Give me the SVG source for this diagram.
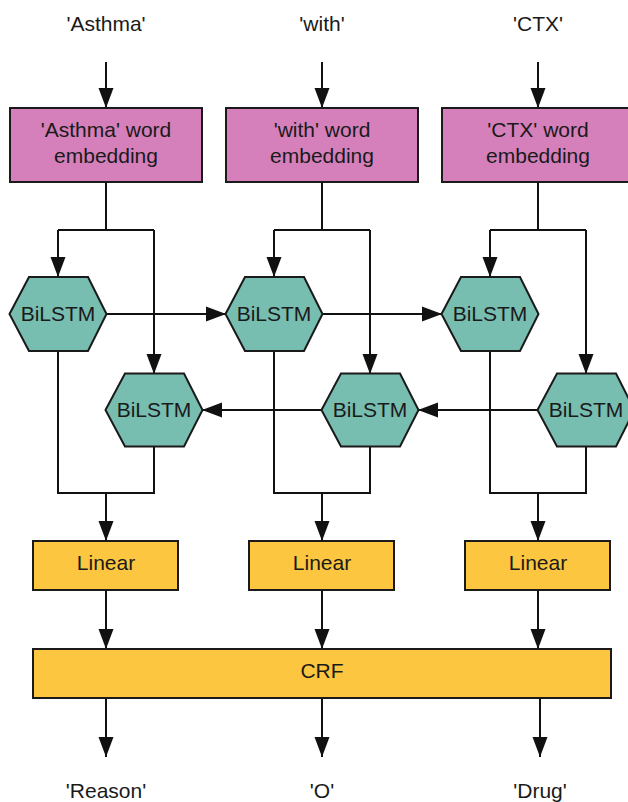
<svg xmlns="http://www.w3.org/2000/svg" width="628" height="802" viewBox="0 0 628 802">
<style>
  text { font-family: "Liberation Sans", Arial, sans-serif; font-size: 21px; fill: #1a1a1a; text-anchor: middle; }
  .emb { fill: #d580bb; stroke: #1a1a1a; stroke-width: 2; }
  .hex { fill: #77bdb0; stroke: #1a1a1a; stroke-width: 2; }
  .yel { fill: #fdc640; stroke: #1a1a1a; stroke-width: 2; }
  .wire { fill: none; stroke: #111; stroke-width: 2; }
  .arr { fill: none; stroke: #111; stroke-width: 2; marker-end: url(#ah); }
</style>
<defs>
  <marker id="ah" viewBox="0 0 20 20" refX="20" refY="10" markerUnits="userSpaceOnUse" markerWidth="20" markerHeight="20" orient="auto">
    <path d="M0,2.5 L20,10 L0,17.5 Z" fill="#111"/>
  </marker>
</defs>

<g id="connectors">
  <path class="arr" d="M106,62 V108"/>
  <path class="arr" d="M322,62 V108"/>
  <path class="arr" d="M538,62 V108"/>
  <path class="wire" d="M106,182 V230 M58,230 H154"/>
  <path class="arr" d="M58,230 V277"/>
  <path class="arr" d="M154,230 V374"/>
  <path class="wire" d="M322,182 V230 M274,230 H370"/>
  <path class="arr" d="M274,230 V277"/>
  <path class="arr" d="M370,230 V374"/>
  <path class="wire" d="M538,182 V230 M490,230 H586"/>
  <path class="arr" d="M490,230 V277"/>
  <path class="arr" d="M586,230 V374"/>
  <path class="arr" d="M106,314 H226"/>
  <path class="arr" d="M322,314 H442"/>
  <path class="arr" d="M538,410 H418"/>
  <path class="arr" d="M322,410 H202"/>
  <path class="wire" d="M58,351 V493 H154 V447"/>
  <path class="arr" d="M106,493 V541"/>
  <path class="wire" d="M274,351 V493 H370 V447"/>
  <path class="arr" d="M322,493 V541"/>
  <path class="wire" d="M490,351 V493 H586 V447"/>
  <path class="arr" d="M538,493 V541"/>
  <path class="arr" d="M106,590 V649"/>
  <path class="arr" d="M322,590 V649"/>
  <path class="arr" d="M538,590 V649"/>
  <path class="arr" d="M106,698 V757"/>
  <path class="arr" d="M322,698 V757"/>
  <path class="arr" d="M540,698 V757"/>
</g>

<g id="labels-in">
  <text x="106" y="31">'Asthma'</text>
  <text x="322" y="31">'with'</text>
  <text x="538" y="31">'CTX'</text>
</g>

<g id="emb-asthma">
  <rect class="emb" x="10" y="108" width="192" height="74"/>
  <text x="106" y="137">'Asthma' word</text>
  <text x="106" y="163">embedding</text>
</g>
<g id="emb-with">
  <rect class="emb" x="226" y="108" width="192" height="74"/>
  <text x="322" y="137">'with' word</text>
  <text x="322" y="163">embedding</text>
</g>
<g id="emb-ctx">
  <rect class="emb" x="442" y="108" width="192" height="74"/>
  <text x="538" y="137">'CTX' word</text>
  <text x="538" y="163">embedding</text>
</g>

<g id="fwd1">
  <polygon class="hex" points="9.5,314 29,277 88,277 106.5,314 88,351 29,351"/>
  <text x="58" y="321">BiLSTM</text>
</g>
<g id="fwd2">
  <polygon class="hex" points="225.5,314 245,277 304,277 322.5,314 304,351 245,351"/>
  <text x="274" y="321">BiLSTM</text>
</g>
<g id="fwd3">
  <polygon class="hex" points="441.5,314 461,277 520,277 538.5,314 520,351 461,351"/>
  <text x="490" y="321">BiLSTM</text>
</g>
<g id="bwd1">
  <polygon class="hex" points="105.5,410 125,373.5 184,373.5 202.5,410 184,446.5 125,446.5"/>
  <text x="154" y="417">BiLSTM</text>
</g>
<g id="bwd2">
  <polygon class="hex" points="321.5,410 341,373.5 400,373.5 418.5,410 400,446.5 341,446.5"/>
  <text x="370" y="417">BiLSTM</text>
</g>
<g id="bwd3">
  <polygon class="hex" points="537.5,410 557,373.5 616,373.5 634.5,410 616,446.5 557,446.5"/>
  <text x="586" y="417">BiLSTM</text>
</g>

<g id="linear1">
  <rect class="yel" x="33" y="541" width="145" height="49"/>
  <text x="106" y="570">Linear</text>
</g>
<g id="linear2">
  <rect class="yel" x="249" y="541" width="145" height="49"/>
  <text x="322" y="570">Linear</text>
</g>
<g id="linear3">
  <rect class="yel" x="465" y="541" width="145" height="49"/>
  <text x="538" y="570">Linear</text>
</g>

<g id="crf">
  <rect class="yel" x="33" y="649" width="578" height="49"/>
  <text x="322" y="678">CRF</text>
</g>

<g id="labels-out">
  <text x="106" y="798">'Reason'</text>
  <text x="322" y="798">'O'</text>
  <text x="540" y="798">'Drug'</text>
</g>
</svg>
